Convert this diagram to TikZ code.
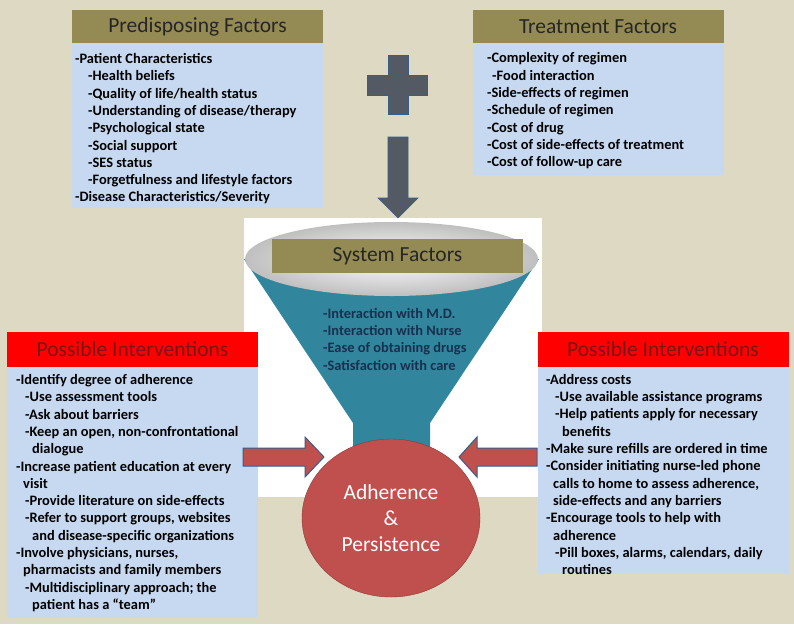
\documentclass[tikz,border=0pt]{standalone}
\usepackage{fontspec}
\setmainfont{Carlito}
\usetikzlibrary{shapes.geometric}
\definecolor{bgtan}{HTML}{DDD9C3}
\definecolor{hdolive}{HTML}{948A54}
\definecolor{boxblue}{HTML}{C6D9F1}
\definecolor{funnelteal}{HTML}{31859C}
\definecolor{adhred}{HTML}{C0504D}
\definecolor{adhline}{HTML}{8C3A38}
\definecolor{arrline}{HTML}{385D8A}
\definecolor{plusgray}{HTML}{535A63}
\definecolor{hdred}{HTML}{FF0000}
\definecolor{hdredtxt}{HTML}{7A1515}
\definecolor{funtxt}{HTML}{17304F}
\tikzset{
    HD/.style ={rectangle, minimum width=251pt, minimum height=33pt, inner sep=0, fill=hdolive, text=black!85, font=\fontsize{21.5}{26}\selectfont},
    HR/.style ={rectangle, minimum width=251pt, minimum height=35pt, inner sep=0, fill=hdred, text=hdredtxt, font=\fontsize{21.5}{26}\selectfont},
    BX/.style ={rectangle, minimum width=251pt, inner sep=0, fill=boxblue},
    TX/.style ={anchor=north west, inner sep=0, align=left, font=\fontsize{14.4}{17.3}\selectfont\bfseries},
    AR/.style ={fill=adhred, draw=arrline, line width=1pt},
    PL/.style ={fill=plusgray, draw=arrline, line width=0.6pt}}

\begin{document}
\begin{tikzpicture}[x=1pt,y=-1pt]
        \fill[bgtan] (0,0) rectangle (794,624);
        \useasboundingbox (0,0) rectangle (794,624);
        % funnel
        \fill[white] (244,218) rectangle (542,497);
        \fill[funnelteal] (244,259) -- (539,259) -- (430,423) -- (430,470) -- (353,470) -- (353,423) -- cycle;
        \shade[inner color=white, outer color=gray!50] (391.5,259) ellipse [x radius=146.5, y radius=37];
        \node[HD, minimum height=34pt] (1) at (397.5,256) {System Factors};
        \node[TX, text=funtxt] (2) at (323,306) {\strut-Interaction with M.D.\\-Interaction with Nurse\\-Ease of obtaining drugs\\-Satisfaction with care};
        \node[ellipse, minimum width=178pt, minimum height=158pt, inner sep=0, fill=adhred, draw=adhline, text=white, align=center, font=\fontsize{21.5}{26}\selectfont] (3) at (391,518) {Adherence\\\&\\Persistence};
        % top boxes
        \node[HD] (4) at (197.5,26.5) {Predisposing Factors};
        \node[BX, minimum height=165pt] (5) at (197.5,125.5) {};
        \node[TX] (6) at (75,51.2) {\strut-Patient Characteristics\\
            \hspace*{13pt}-Health beliefs\\
            \hspace*{13pt}-Quality of life/health status\\
            \hspace*{13pt}-Understanding of disease/therapy\\
            \hspace*{13pt}-Psychological state\\
            \hspace*{13pt}-Social support\\
            \hspace*{13pt}-SES status\\
            \hspace*{13pt}-Forgetfulness and lifestyle factors\\
            -Disease Characteristics/Severity};
        \node[HD] (7) at (598,26.5) {Treatment Factors};
        \node[BX, minimum height=132pt] (8) at (598,109) {};
        \node[TX] (9) at (487,50.6) {\strut-Complexity of regimen\\
            \hspace*{5pt}-Food interaction\\
            -Side-effects of regimen\\
            -Schedule of regimen\\
            -Cost of drug\\
            -Cost of side-effects of treatment\\
            -Cost of follow-up care};
        % plus and down arrow
        \filldraw[PL] (388,55) -- (408,55) -- (408,75) -- (427,75) -- (427,95) -- (408,95) -- (408,114) -- (388,114) -- (388,95) -- (367,95) -- (367,75) -- (388,75) -- cycle;
        \filldraw[PL] (388,137) -- (408,137) -- (408,198) -- (418,198) -- (398,218) -- (378,198) -- (388,198) -- cycle;
        % interventions
        \node[HR] (10) at (132.5,349.5) {Possible Interventions};
        \node[BX, minimum height=251pt] (11) at (132.5,492.5) {};
        \node[TX] (12) at (16,372.2) {\strut-Identify degree of adherence\\
            \hspace*{9pt}-Use assessment tools\\
            \hspace*{9pt}-Ask about barriers\\
            \hspace*{9pt}-Keep an open, non-confrontational\\
            \hspace*{16pt}dialogue\\
            -Increase patient education at every\\
            \hspace*{7pt}visit\\
            \hspace*{9pt}-Provide literature on side-effects\\
            \hspace*{9pt}-Refer to support groups, websites\\
            \hspace*{16pt}and disease-specific organizations\\
            -Involve physicians, nurses,\\
            \hspace*{7pt}pharmacists and family members\\
            \hspace*{9pt}-Multidisciplinary approach; the\\
            \hspace*{16pt}patient has a “team”};
        \node[HR] (13) at (663,349.5) {Possible Interventions};
        \node[BX, minimum height=207pt] (14) at (663,470.5) {};
        \node[TX] (15) at (546,372) {\strut-Address costs\\
            \hspace*{9pt}-Use available assistance programs\\
            \hspace*{9pt}-Help patients apply for necessary\\
            \hspace*{16pt}benefits\\
            -Make sure refills are ordered in time\\
            -Consider initiating nurse-led phone\\
            \hspace*{7pt}calls to home to assess adherence,\\
            \hspace*{7pt}side-effects and any barriers\\
            -Encourage tools to help with\\
            \hspace*{7pt}adherence\\
            \hspace*{9pt}-Pill boxes, alarms, calendars, daily\\
            \hspace*{16pt}routines};
        % arrows into the circle
        \filldraw[AR] (243,448) -- (305,448) -- (305,437) -- (324,457) -- (305,477) -- (305,466) -- (243,466) -- cycle;
        \filldraw[AR] (537,448) -- (477,448) -- (477,437) -- (459,457) -- (477,477) -- (477,466) -- (537,466) -- cycle;
    \end{tikzpicture}
\end{document}
